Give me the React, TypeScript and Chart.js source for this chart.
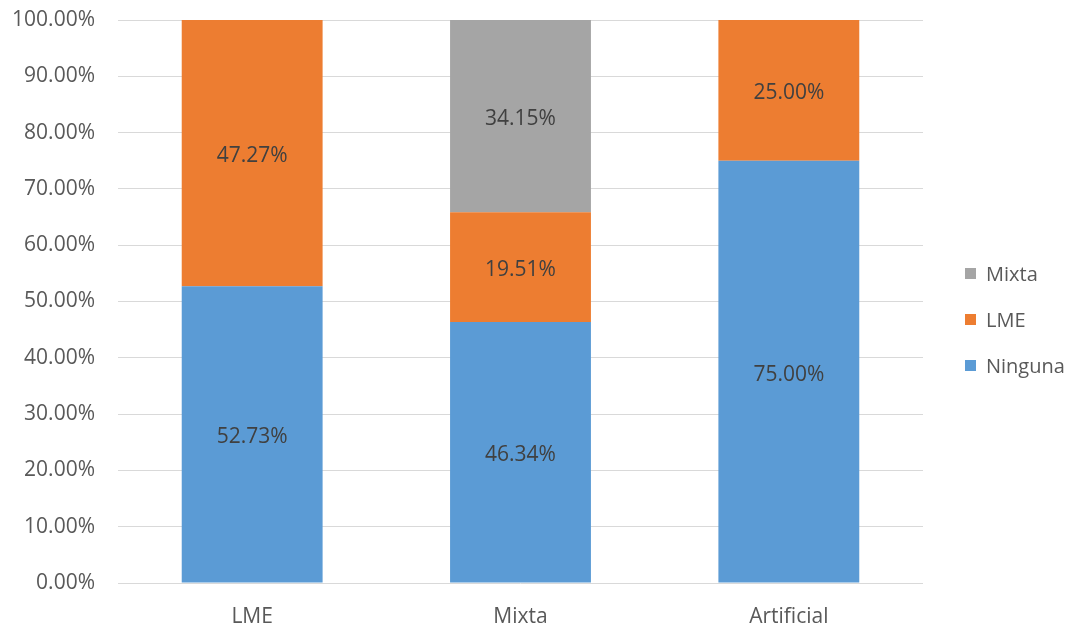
import React, { useEffect, useRef } from "react";
import { Chart, registerables } from "chart.js";

Chart.register(...registerables);

const categories = ["LME", "Mixta", "Artificial"];
const ninguna = [52.73, 46.34, 75.0];
const lme = [47.27, 19.51, 25.0];
const mixta = [0, 34.15, 0];
const yTicks = [0, 10, 20, 30, 40, 50, 60, 70, 80, 90, 100];

const FONT = "'Open Sans', 'Noto Sans', sans-serif";
const TEXT = "#595959";
const SIZE = 21;

const labelsPlugin = {
  id: "barLabels",
  afterDatasetsDraw(chart: any) {
    const ctx = chart.ctx;
    ctx.save();
    ctx.font = `${SIZE}px ${FONT}`;
    ctx.fillStyle = "#404040";
    ctx.textAlign = "center";
    ctx.textBaseline = "middle";
    chart.data.datasets.forEach((ds: any, di: number) => {
      const meta = chart.getDatasetMeta(di);
      meta.data.forEach((bar: any, i: number) => {
        const v = ds.data[i];
        if (!v) return;
        const y = (bar.y + bar.base) / 2 + 3;
        ctx.fillText(v.toFixed(2) + "%", bar.x, y);
      });
    });
    ctx.restore();
  },
};

const legendPlugin = {
  id: "customLegend",
  afterDraw(chart: any) {
    const ctx = chart.ctx;
    const area = chart.chartArea;
    const items = chart.data.datasets.slice().reverse();
    const x = area.right + 42;
    const spacing = 46;
    const centerY = 319;
    const startY = centerY - ((items.length - 1) * spacing) / 2;
    ctx.save();
    ctx.font = `20px ${FONT}`;
    ctx.textBaseline = "middle";
    ctx.textAlign = "left";
    items.forEach((ds: any, i: number) => {
      const y = startY + i * spacing;
      ctx.fillStyle = ds.backgroundColor;
      ctx.fillRect(x, y - 5, 11, 11);
      ctx.fillStyle = TEXT;
      ctx.fillText(ds.label, x + 21, y + 2);
    });
    ctx.restore();
  },
};

export default function App() {
  const ref = useRef<HTMLCanvasElement>(null);
  useEffect(() => {
    document.body.style.margin = "0";
    const chart = new Chart(ref.current!, {
      type: "bar",
      data: {
        labels: categories,
        datasets: [
          { label: "Ninguna", data: ninguna, backgroundColor: "#5B9BD5", barPercentage: 0.525, categoryPercentage: 1 },
          { label: "LME", data: lme, backgroundColor: "#ED7D31", barPercentage: 0.525, categoryPercentage: 1 },
          { label: "Mixta", data: mixta, backgroundColor: "#A5A5A5", barPercentage: 0.525, categoryPercentage: 1 },
        ],
      },
      options: {
        animation: false,
        responsive: false,
        layout: { padding: { top: 20, right: 146, left: 0, bottom: 0 } },
        plugins: { legend: { display: false }, tooltip: { enabled: false } },
        scales: {
          x: {
            stacked: true,
            grid: { display: false },
            border: { display: false },
            ticks: { color: TEXT, font: { family: FONT, size: SIZE }, padding: 13 },
            afterFit: (s: any) => { s.height = 44; s.paddingLeft = 0; s.paddingRight = 0; },
          },
          y: {
            stacked: true,
            min: 0,
            max: 100,
            afterBuildTicks: (s: any) => { s.ticks = yTicks.map((v) => ({ value: v })); },
            grid: { color: "#D9D9D9", lineWidth: 1, drawTicks: false },
            border: { display: false },
            ticks: {
              color: TEXT,
              font: { family: FONT, size: SIZE },
              padding: 23,
              callback: (v: any) => Number(v).toFixed(2) + "%",
            },
            afterFit: (s: any) => { s.width = 118; s.paddingTop = 0; s.paddingBottom = 0; },
          },
        },
      },
      plugins: [labelsPlugin, legendPlugin],
    });
    return () => chart.destroy();
  }, []);
  return (
    <div style={{ position: "absolute", left: 0, top: 0, width: 1069, height: 627 }}>
      <canvas ref={ref} width={1069} height={627} />
    </div>
  );
}
